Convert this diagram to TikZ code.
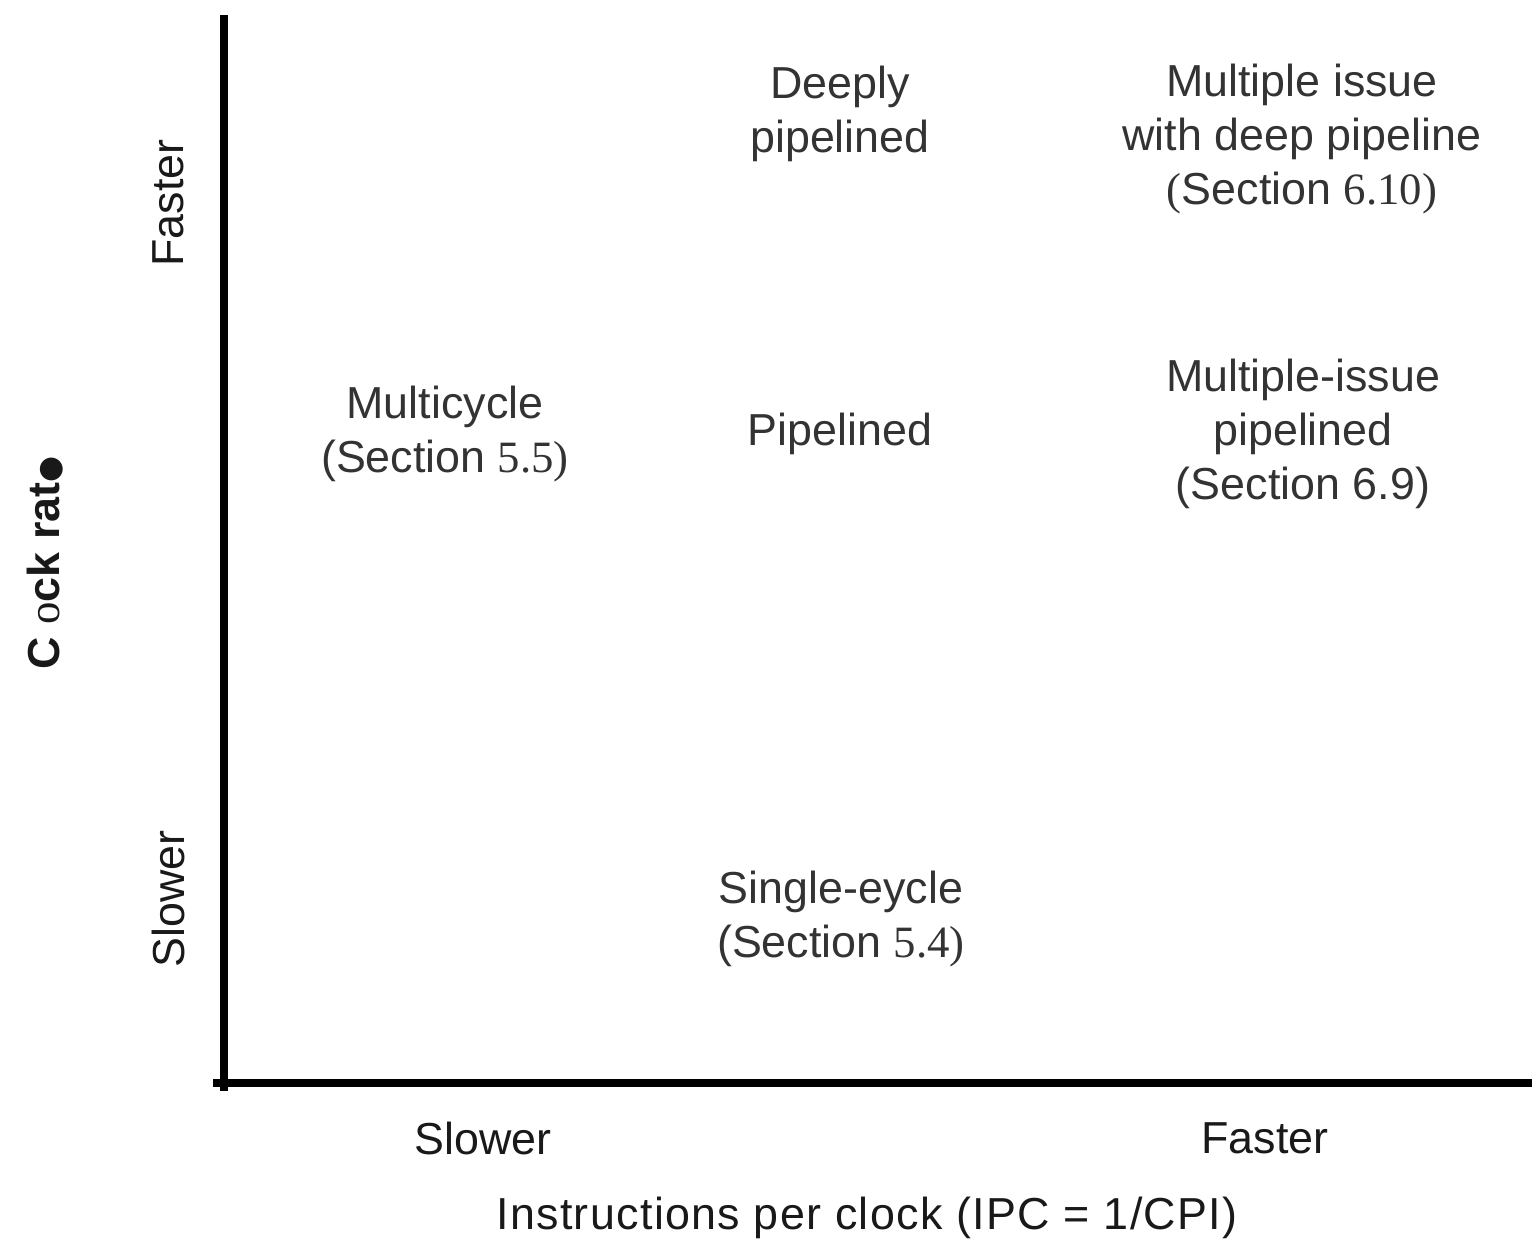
\documentclass[tikz,border=0pt]{standalone}
\usepackage{fontspec}
\setmainfont{Liberation Sans}
\newfontfamily\serifnum{Liberation Serif}
\newfontfamily\symfont{DejaVu Sans}
\usepackage{xcolor}
\usepackage{tikz}

\tikzset{
    design/.style={align=center, text=black!80, font=\fontsize{25.5}{30.5}\selectfont},
    axislabel/.style={text=black!90, font=\fontsize{25.5}{30.5}\selectfont},
    axisline/.style={line width=4pt}
}

\begin{document}
\begin{tikzpicture}
        % Fix the page size
        \useasboundingbox (0,0) rectangle (30.64,24.88);

        % Corner of the two axes
        \coordinate (o) at (4.48,3.22);
        \coordinate (ytop) at (4.48,24.58);
        \coordinate (ybot) at (4.48,3.06);
        \coordinate (xleft) at (4.26,3.22);
        \coordinate (xright) at (30.64,3.22);

        % Draw axes
        \draw[axisline] (ybot) -- (ytop);
        \draw[axisline] (xleft) -- (xright);

        % Designs placed by IPC and clock rate
        \node[design] (deep) at (16.8,22.6) {Deeply\\pipelined};
        \node[design] (mideep) at (26.04,22.1) {Multiple issue\\with deep pipeline\\{\serifnum(}Section {\serifnum 6.10)}};
        \node[design] (multi) at (8.9,16.2) {Multicycle\\(Section {\serifnum 5.5)}};
        \node[design] (pipe) at (16.8,16.2) {Pipelined};
        \node[design] (mipipe) at (26.06,16.2) {Multiple-issue\\pipelined\\(Section 6.9)};
        \node[design] (single) at (16.82,6.5) {Single-eycle\\(Section {\serifnum 5.4)}};

        % Horizontal axis labels
        \node[axislabel] (xslow) at (9.66,2.12) {Slower};
        \node[axislabel] (xfast) at (25.3,2.12) {Faster};
        \node[axislabel, font=\fontsize{25.5}{30.5}\selectfont\addfontfeature{LetterSpace=3}] (xlabel) at (17.34,0.52)
            {Instructions per clock (IPC = 1/CPI)};

        % Vertical axis labels
        \node[axislabel, rotate=90] (yfast) at (3.36,20.82) {Faster};
        \node[axislabel, rotate=90] (yslow) at (3.36,6.9) {Slower};
        \node[axislabel, rotate=90, font=\fontsize{25.5}{30.5}\selectfont\bfseries] (ylabel) at (0.9,13.62)
            {C {\serifnum\mdseries o}ck rat{\symfont\fontsize{17}{20}\selectfont ●}};
    \end{tikzpicture}
\end{document}
